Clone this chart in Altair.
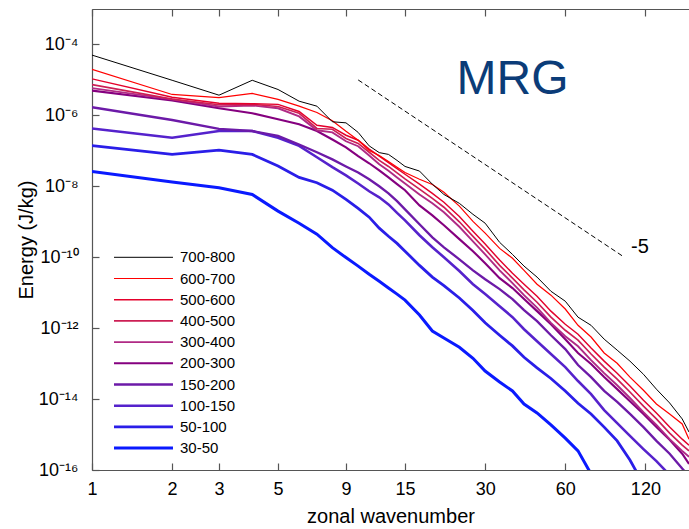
import altair as alt
import pandas as pd

# zonal wavenumbers at which the spectra were read
k = [1, 2, 3, 4, 5, 6, 7, 8, 9, 10, 11, 12, 13, 14, 15, 17, 19, 21, 24, 27, 30,
     34, 38, 42, 47, 53, 60, 67, 75, 84, 94, 105, 118, 132, 148, 165, 175]

# log10 of energy (J/kg) for each level band
e_700_800 = [-4.30, -5.01, -5.43, -5.01, -5.27, -5.60, -5.74, -6.18, -6.21, -6.48,
             -6.86, -7.05, -7.10, -7.27, -7.44, -7.57, -7.94, -8.23, -8.48, -8.79,
             -9.04, -9.58, -9.92, -10.25, -10.56, -10.96, -11.24, -11.69, -11.92,
             -12.31, -12.62, -12.93, -13.30, -13.72, -14.11, -14.56, -14.93]
e_600_700 = [-4.70, -5.41, -5.50, -5.38, -5.55, -5.74, -5.92, -6.15, -6.45, -6.70,
             -6.99, -7.13, -7.30, -7.46, -7.61, -7.80, -7.95, -8.17, -8.56, -8.99,
             -9.32, -9.75, -10.03, -10.37, -10.76, -11.07, -11.46, -11.92, -12.25,
             -12.70, -12.99, -13.38, -13.75, -14.14, -14.42, -14.70, -15.13]
e_500_600 = [-4.97, -5.49, -5.66, -5.67, -5.69, -5.89, -6.28, -6.34, -6.56, -6.70,
             -6.95, -7.15, -7.33, -7.50, -7.66, -7.94, -8.20, -8.45, -8.85, -9.27,
             -9.63, -10.08, -10.45, -10.76, -11.10, -11.52, -11.89, -12.17, -12.56,
             -12.93, -13.27, -13.63, -14.03, -14.39, -14.79, -15.13, -15.30]
e_400_500 = [-5.13, -5.54, -5.70, -5.69, -5.75, -5.94, -6.37, -6.39, -6.65, -6.79,
             -7.04, -7.27, -7.44, -7.62, -7.79, -8.08, -8.34, -8.59, -9.00, -9.41,
             -9.77, -10.23, -10.59, -10.92, -11.27, -11.69, -12.06, -12.34, -12.73,
             -13.10, -13.44, -13.80, -14.20, -14.56, -14.96, -15.30, -15.46]
e_300_400 = [-5.23, -5.55, -5.75, -5.72, -5.80, -6.03, -6.42, -6.48, -6.73, -6.87,
             -7.13, -7.38, -7.56, -7.75, -7.92, -8.23, -8.48, -8.73, -9.14, -9.55,
             -9.92, -10.37, -10.73, -11.07, -11.42, -11.85, -12.23, -12.51, -12.90,
             -13.27, -13.61, -13.97, -14.37, -14.73, -15.13, -15.46, -15.63]
e_200_300 = [-5.30, -5.58, -5.80, -5.94, -6.11, -6.25, -6.44, -6.68, -6.90, -7.15,
             -7.35, -7.55, -7.75, -7.94, -8.11, -8.54, -8.82, -9.10, -9.49, -9.83,
             -10.17, -10.59, -10.87, -11.18, -11.52, -11.89, -12.31, -12.70, -13.01,
             -13.38, -13.72, -14.06, -14.42, -14.79, -15.15, -15.54, -15.83]
e_150_200 = [-5.77, -6.13, -6.38, -6.44, -6.58, -6.82, -7.04, -7.24, -7.44, -7.61,
             -7.80, -8.00, -8.20, -8.42, -8.65, -9.07, -9.44, -9.72, -10.06, -10.37,
             -10.62, -10.90, -11.18, -11.49, -11.80, -12.20, -12.59, -13.04, -13.38,
             -13.77, -14.08, -14.42, -14.79, -15.18, -15.54, -15.96, -16.17]
e_100_150 = [-6.37, -6.63, -6.44, -6.44, -6.63, -6.86, -7.18, -7.46, -7.69, -7.92,
             -8.14, -8.31, -8.51, -8.75, -8.96, -9.38, -9.72, -10.00, -10.39, -10.76,
             -11.04, -11.38, -11.69, -12.03, -12.37, -12.73, -13.10, -13.49, -13.86,
             -14.31, -14.68, -15.04, -15.41, -15.75, -16.14]
e_50_100 = [-6.85, -7.10, -6.98, -7.10, -7.43, -7.75, -7.90, -8.11, -8.37, -8.62,
            -8.87, -9.18, -9.41, -9.61, -9.83, -10.23, -10.56, -10.80, -11.15, -11.50,
            -11.85, -12.20, -12.50, -12.82, -13.12, -13.42, -13.77, -14.12, -14.42,
            -14.79, -15.18, -15.72, -16.40]
e_30_50 = [-7.58, -7.88, -8.04, -8.23, -8.70, -9.04, -9.35, -9.73, -10.01, -10.25,
           -10.48, -10.68, -10.87, -11.04, -11.21, -11.63, -12.08, -12.28, -12.54,
           -12.85, -13.21, -13.52, -13.77, -14.14, -14.39, -14.73, -15.10, -15.46,
           -16.11]

series = ["700-800", "600-700", "500-600", "400-500", "300-400",
          "200-300", "150-200", "100-150", "50-100", "30-50"]
values = [e_700_800, e_600_700, e_500_600, e_400_500, e_300_400,
          e_200_300, e_150_200, e_100_150, e_50_100, e_30_50]
colors = ["#000000", "#ff0000", "#e4002b", "#cc1f55", "#b02a85",
          "#85007f", "#6c1aa8", "#5522cc", "#2a1ee8", "#0a1aff"]
width_range = [1.0, 3.0]   # thinnest (700-800) to thickest (30-50)

# reference slope line (-5) and annotations
slope_k = [10, 100]
slope_e = [1e-5, 1e-10]
slope_label_k = [106]
slope_label_e = [2.0e-10]
slope_label = ["-5"]
panel_k = [38]
panel_e = [1.0e-5]
panel_label = ["MRG"]

x_ticks = [1, 2, 3, 5, 9, 15, 30, 60, 120]
y_ticks = [1e-16, 1e-14, 1e-12, 1e-10, 1e-8, 1e-6, 1e-4]
y_tick_text = ["10⁻¹⁶", "10⁻¹⁴", "10⁻¹²", "10⁻¹⁰", "10⁻⁸", "10⁻⁶", "10⁻⁴"]

rows = []
for name, vals in reversed(list(zip(series, values))):
    for kk, v in zip(k, vals):
        rows.append({"series": name, "k": kk, "E": 10 ** v})
df = pd.DataFrame(rows)

FONT = "Liberation Sans"
AX = "#555555"

xs = alt.Scale(type="log", domain=[1, 175], nice=False)
ys = alt.Scale(type="log", domain=[1e-16, 1e-3], nice=False)

label_expr = ""
for val, txt in zip(y_ticks, y_tick_text):
    label_expr += f"datum.value < {val * 3:g} ? '{txt}' : "
label_expr += "''"

y_axis = alt.Axis(
    orient="left", values=y_ticks, labelExpr=label_expr,
    tickSize={"expr": "-7"}, labelPadding=21, labelFontSize=18,
    labelFont=FONT, labelColor="black", labelFlush=False,
    labelOverlap=False, domainColor=AX, tickColor=AX, domainWidth=1.2,
    tickWidth=1.2, grid=False,
    title="Energy (J/kg)", titleFont=FONT, titleFontSize=20,
    titleFontWeight="normal", titleColor="black", titleX=-60,
    titleY=230.5, titleAngle=270, titleBaseline="alphabetic")

legend = alt.Legend(
    title=None, orient="none", legendX=14.5, legendY=240.8,
    symbolType="M0,0L9.83,0", symbolSize=144, labelOffset=58.5,
    rowPadding=5.2, labelFontSize=15, labelFont=FONT, labelColor="black",
    padding=0, symbolOpacity=1,
)

lines = alt.Chart(df).mark_line(clip=True).encode(
    x=alt.X("k:Q", scale=xs, axis=alt.Axis(
        orient="bottom", values=x_ticks, format="d", tickSize={"expr": "-7"},
        labelPadding=17, labelFontSize=18, labelFont=FONT, labelColor="black",
        labelFlush=False, labelOverlap=False, domainColor=AX, tickColor=AX,
        domainWidth=1.2, tickWidth=1.2, grid=False,
        title="zonal wavenumber", titleFont=FONT, titleFontSize=20,
        titleFontWeight="normal", titleColor="black", titleX=298.5, titleY=52,
        titleBaseline="alphabetic")),
    y=alt.Y("E:Q", scale=ys, axis=y_axis),
    color=alt.Color("series:O", scale=alt.Scale(domain=series, range=colors),
                    legend=legend),
    strokeWidth=alt.StrokeWidth("series:O",
                                scale=alt.Scale(type="point", domain=series,
                                                range=width_range, padding=0),
                                legend=legend),
)

slope_df = pd.DataFrame({"k": slope_k, "E": slope_e})
slope = alt.Chart(slope_df).mark_line(
    color="black", strokeWidth=1, strokeDash=[5, 3]
).encode(
    x=alt.X("k:Q", scale=xs, axis=alt.Axis(
        orient="top", values=x_ticks, labels=False, title=None,
        tickSize={"expr": "-7"}, domainColor=AX, tickColor=AX,
        domainWidth=1.2, tickWidth=1.2, grid=False)),
    y=alt.Y("E:Q", scale=ys, axis=y_axis),
)

slope_txt = alt.Chart(pd.DataFrame(
    {"k": slope_label_k, "E": slope_label_e, "t": slope_label})
).mark_text(align="left", baseline="middle", fontSize=20, font=FONT,
            color="black").encode(
    x=alt.X("k:Q", scale=xs, axis=None),
    y=alt.Y("E:Q", scale=ys, axis=y_axis),
    text="t:N",
)

panel_txt = alt.Chart(pd.DataFrame(
    {"k": panel_k, "E": panel_e, "t": panel_label})
).mark_text(align="center", baseline="middle", fontSize=48, font=FONT,
            color="#0b3c78").encode(
    x=alt.X("k:Q", scale=xs, axis=None),
    y=alt.Y("E:Q", scale=ys, axis=y_axis),
    text="t:N",
)

chart = alt.layer(lines, slope, slope_txt, panel_txt).resolve_axis(
    x="independent", y="shared"
).properties(
    width=597, height=461,
    autosize=alt.AutoSizeParams(type="none"),
    padding={"left": 92, "top": 9, "right": 0, "bottom": 59},
).configure_view(stroke=None).configure(background="white")

chart.save("out.html", embed_options={"renderer": "svg", "actions": False})
